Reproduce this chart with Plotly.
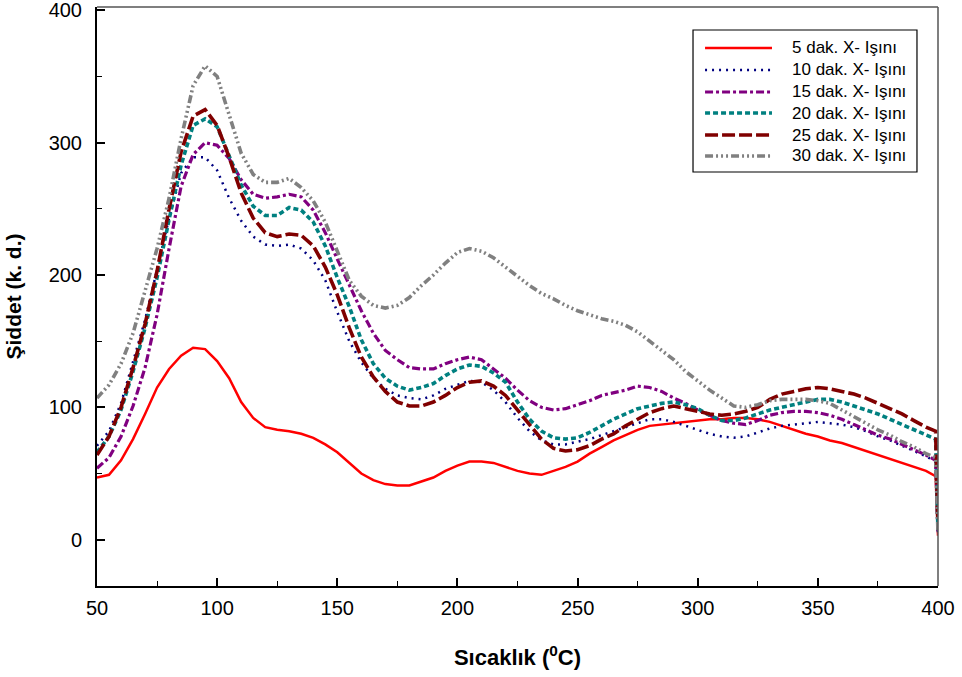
import plotly.graph_objects as go

temps = [50, 55, 60, 65, 70, 75, 80, 85, 90, 95, 100, 105, 110, 115, 120, 125, 130, 135, 140, 145,
         150, 155, 160, 165, 170, 175, 180, 185, 190, 195, 200, 205, 210, 215, 220, 225, 230, 235, 240, 245,
         250, 255, 260, 265, 270, 275, 280, 285, 290, 295, 300, 305, 310, 315, 320, 325, 330, 335, 340, 345,
         350, 355, 360, 365, 370, 375, 380, 385, 390, 395, 399, 400]

dak5 = [47, 49, 60, 76, 95, 115, 129, 139, 145, 144, 135, 122, 104, 92, 85, 83, 82, 80, 77, 72,
        66, 58, 50, 45, 42, 41, 41, 44, 47, 52, 56, 59, 59, 58, 55, 52, 50, 49, 52, 55,
        59, 65, 70, 75, 79, 83, 86, 87, 88, 89, 90, 91, 91, 92, 92, 91, 89, 86, 83, 80,
        78, 75, 73, 70, 67, 64, 61, 58, 55, 52, 48, 3]

dak10 = [71, 82, 103, 134, 166, 204, 243, 277, 289, 289, 279, 258, 241, 229, 223, 222, 223, 220, 211, 196,
         172, 150, 134, 122, 114, 109, 107, 106, 109, 114, 117, 120, 119, 113, 104, 92, 82, 75, 72, 72,
         74, 76, 79, 82, 85, 88, 91, 91, 89, 86, 83, 80, 78, 77, 78, 81, 84, 86, 87, 88,
         89, 88, 87, 85, 82, 78, 75, 71, 67, 63, 59, 4]

dak15 = [54, 62, 78, 101, 130, 170, 220, 267, 291, 300, 298, 288, 272, 261, 258, 259, 261, 259, 249, 232,
         212, 193, 173, 156, 143, 136, 130, 129, 129, 133, 136, 138, 136, 129, 122, 113, 105, 100, 98, 99,
         102, 105, 109, 111, 113, 116, 115, 112, 107, 103, 98, 94, 90, 88, 87, 90, 94, 96, 97, 97,
         96, 94, 91, 87, 83, 79, 76, 72, 68, 64, 60, 5]

dak20 = [66, 78, 98, 127, 160, 198, 242, 283, 313, 318, 312, 290, 268, 252, 245, 245, 251, 249, 240, 222,
         198, 176, 151, 133, 122, 116, 113, 115, 118, 124, 129, 132, 131, 126, 119, 104, 91, 82, 77, 76,
         77, 81, 86, 91, 95, 99, 101, 103, 104, 102, 99, 94, 90, 90, 92, 95, 98, 100, 102, 104,
         106, 106, 104, 101, 98, 95, 91, 87, 83, 79, 76, 6]

dak25 = [64, 78, 100, 130, 163, 203, 250, 293, 320, 325, 313, 289, 262, 243, 232, 229, 231, 230, 222, 206,
         185, 160, 138, 123, 112, 104, 101, 101, 104, 109, 115, 119, 120, 116, 109, 98, 86, 76, 69, 67,
         68, 71, 76, 80, 86, 91, 96, 99, 101, 99, 97, 95, 94, 95, 97, 100, 106, 110, 112, 114,
         115, 114, 112, 110, 107, 103, 99, 95, 90, 85, 82, 8]

dak30 = [107, 117, 133, 156, 188, 220, 258, 303, 343, 358, 350, 320, 292, 276, 270, 270, 273, 266, 256, 240,
         218, 196, 184, 177, 175, 177, 183, 192, 200, 209, 217, 220, 218, 213, 206, 199, 192, 186, 182, 177,
         173, 170, 167, 165, 162, 157, 150, 143, 136, 127, 120, 113, 107, 101, 100, 102, 105, 106, 106, 106,
         105, 103, 98, 93, 88, 83, 79, 74, 70, 65, 62, 5]

names = ["5 dak. X- Işını", "10 dak. X- Işını", "15 dak. X- Işını",
         "20 dak. X- Işını", "25 dak. X- Işını", "30 dak. X- Işını"]
series = [dak5, dak10, dak15, dak20, dak25, dak30]
colors = ["#FF0000", "#000080", "#800080", "#008080", "#800000", "#808080"]
dashes = ["solid", "2px,5px", "8px,3px,3px,3px", "5px,3px", "13px,4px",
          "8px,3px,2px,3px,2px,3px,2px,3px"]
widths = [2.5, 2.5, 3.2, 3.6, 3.6, 3.6]

fig = go.Figure()
for nm, ys, c, d, w in zip(names, series, colors, dashes, widths):
    fig.add_trace(go.Scatter(x=temps, y=ys, mode="lines", name=nm,
                             line=dict(color=c, dash=d, width=w)))

font_family = "Liberation Sans, Arial, sans-serif"

# legend drawn as a framed key in the upper right corner (paper coordinates)
leg_x0, leg_x1, leg_y0, leg_y1 = 0.7087, 0.975, 0.715, 0.9603
line_x0, line_x1, text_x = 0.723, 0.8026, 0.824
row_y = [0.9292, 0.8912, 0.8532, 0.8169, 0.7789, 0.7427]

shapes = [
    dict(type="line", xref="paper", yref="paper", x0=0, x1=1, y0=1, y1=1,
         line=dict(color="#555555", width=1.5)),
    dict(type="line", xref="paper", yref="paper", x0=1, x1=1, y0=0, y1=1,
         line=dict(color="#555555", width=1.5)),
    dict(type="rect", xref="paper", yref="paper", x0=leg_x0, x1=leg_x1, y0=leg_y0, y1=leg_y1,
         fillcolor="white", line=dict(color="black", width=1.2)),
]
annotations = []
for nm, c, d, w, ry in zip(names, colors, dashes, widths, row_y):
    shapes.append(dict(type="line", xref="paper", yref="paper", x0=line_x0, x1=line_x1,
                       y0=ry, y1=ry, line=dict(color=c, dash=d, width=w)))
    annotations.append(dict(xref="paper", yref="paper", x=text_x, y=ry, text=nm,
                            showarrow=False, xanchor="left", yanchor="middle",
                            font=dict(size=17, family=font_family, color="black")))

fig.update_layout(
    width=962, height=677,
    margin=dict(l=97, r=24, t=7, b=91),
    paper_bgcolor="white", plot_bgcolor="white",
    font=dict(family=font_family, color="black", size=20),
    showlegend=False,
    xaxis=dict(range=[50, 400], tickmode="array",
               tickvals=[50, 100, 150, 200, 250, 300, 350, 400],
               ticks="inside", ticklen=8, tickwidth=1.5, tickcolor="black",
               minor=dict(tickvals=[75, 125, 175, 225, 275, 325, 375],
                          ticks="inside", ticklen=5, tickwidth=1, tickcolor="black"),
               showline=True, linecolor="black", linewidth=2,
               showgrid=False, zeroline=False, automargin=False,
               ticklabeloverflow="allow",
               ticklabelstandoff=3,
               tickfont=dict(size=20),
               title=dict(text="<b>Sıcaklık (<sup>0</sup>C)</b>", standoff=32,
                          font=dict(size=22))),
    yaxis=dict(range=[-35, 402.5], tickmode="array",
               tickvals=[0, 100, 200, 300, 400],
               ticks="inside", ticklen=8, tickwidth=1.5, tickcolor="black",
               minor=dict(tickvals=[50, 150, 250, 350],
                          ticks="inside", ticklen=5, tickwidth=1, tickcolor="black"),
               showline=True, linecolor="black", linewidth=2,
               showgrid=False, zeroline=False, automargin=False,
               ticklabeloverflow="allow",
               ticklabelstandoff=9,
               tickfont=dict(size=20),
               title=dict(text="<b>Şiddet (k. d.)</b>", standoff=21,
                          font=dict(size=21))),
    shapes=shapes,
    annotations=annotations,
)

# remove the default page margin so the 962x677 figure fills the window exactly
fig.write_html("out.html", config={"displayModeBar": False},
               post_script="document.body.style.margin='0';")
